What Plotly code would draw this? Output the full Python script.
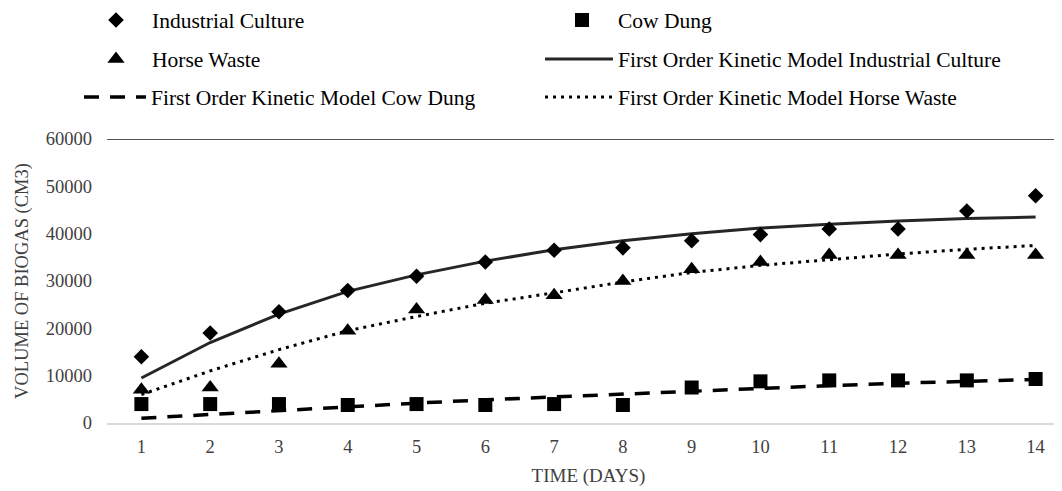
import plotly.graph_objects as go

days = list(range(1, 15))
industrial = [14000, 19000, 23500, 28000, 31000, 34000, 36500, 37000, 38500, 39800, 41000, 41000, 44800, 48000]
cow_dung = [4000, 4000, 4000, 3800, 4000, 3800, 4000, 3800, 7500, 8800, 9000, 9000, 9000, 9300]
horse = [7000, 7500, 12500, 19500, 24000, 26000, 27000, 30000, 32500, 34000, 35500, 35500, 35500, 35500]
model_ic = [9500, 17000, 23000, 27800, 31300, 34200, 36600, 38500, 40000, 41200, 42000, 42700, 43200, 43500]
model_cd = [1000, 1800, 2700, 3500, 4200, 4900, 5500, 6200, 6800, 7400, 7900, 8400, 8800, 9200]
model_hw = [6000, 11000, 15500, 19500, 22500, 25300, 27500, 29800, 31800, 33300, 34500, 35700, 36700, 37500]
y_ticks = [0, 10000, 20000, 30000, 40000, 50000, 60000]

FONT = "Liberation Serif, Times New Roman, Tinos, DejaVu Serif, serif"
W, H = 1062, 491
OFF = 8  # page body margin offset
ML, MR, MT, MB = 107 - OFF, 0, 139 - OFF, 491 - 423 + OFF
PW, PH = W - ML - MR, H - MT - MB


def px_x(p):
    return (p - OFF - ML) / PW


def px_y(p):
    return (H - MB - (p - OFF)) / PH


fig = go.Figure()
fig.add_trace(go.Scatter(x=days, y=model_ic, mode="lines", name="First Order Kinetic Model Industrial Culture",
                         line=dict(color="#262626", width=3), legend="legend4"))
fig.add_trace(go.Scatter(x=days, y=model_cd, mode="lines", name="First Order Kinetic Model Cow Dung",
                         line=dict(color="#000000", width=3.5, dash="15px,11px"), legend="legend5"))
fig.add_trace(go.Scatter(x=days, y=model_hw, mode="lines", name="First Order Kinetic Model Horse Waste",
                         line=dict(color="#000000", width=3, dash="3px,5px"), legend="legend6"))
fig.add_trace(go.Scatter(x=days, y=industrial, mode="markers", name="Industrial Culture",
                         marker=dict(symbol="diamond", size=12, color="#000000"), legend="legend"))
fig.add_trace(go.Scatter(x=days, y=cow_dung, mode="markers", name="Cow Dung",
                         marker=dict(symbol="square", size=14, color="#000000"), legend="legend2"))
fig.add_trace(go.Scatter(x=days, y=horse, mode="markers", name="Horse Waste",
                         marker=dict(symbol="triangle-up", size=15, color="#000000"), legend="legend3"))

leg_font = dict(family=FONT, size=21.5, color="#000000")


def leg(xp, yp, iw=30):
    return dict(x=px_x(xp), y=px_y(yp), xanchor="left", yanchor="middle", font=leg_font,
                bgcolor="rgba(0,0,0,0)", borderwidth=0, itemwidth=iw, orientation="h")


fig.update_layout(
    width=W, height=H,
    margin=dict(l=ML, r=MR, t=MT, b=MB, autoexpand=False),
    paper_bgcolor="white", plot_bgcolor="white",
    font=dict(family=FONT, size=18, color="#404040"),
    showlegend=True,
    legend=leg(116 - 36, 20, 62),
    legend2=leg(582 - 36, 20, 62),
    legend3=leg(116 - 36, 59, 62),
    legend4=leg(540, 59, 68),
    legend5=leg(79, 97, 62),
    legend6=leg(540, 97, 68),
    xaxis=dict(range=[0.5, 14.5], tickvals=days, ticktext=[str(d) for d in days],
               showgrid=False, zeroline=False, showline=True, linecolor="#d9d9d9", linewidth=1.5,
               ticks="", ticklabelstandoff=6, tickfont=dict(family=FONT, size=18.5, color="#404040"),
               title=dict(text="TIME (DAYS)", font=dict(family=FONT, size=19, color="#404040"), standoff=13)),
    yaxis=dict(range=[0, 60000], tickvals=y_ticks, tickformat="d", showgrid=False, zeroline=False,
               showline=False, ticks="", ticklabelstandoff=14,
               tickfont=dict(family=FONT, size=18.5, color="#404040"),
               title=dict(text="VOLUME OF BIOGAS (CM3)", font=dict(family=FONT, size=18.5, color="#404040"),
                          standoff=12)),
    shapes=[dict(type="line", xref="paper", yref="y", x0=0, x1=1, y0=60000, y1=60000,
                 line=dict(color="#1a1a1a", width=1.5))],
)

fig.write_html("out.html")
